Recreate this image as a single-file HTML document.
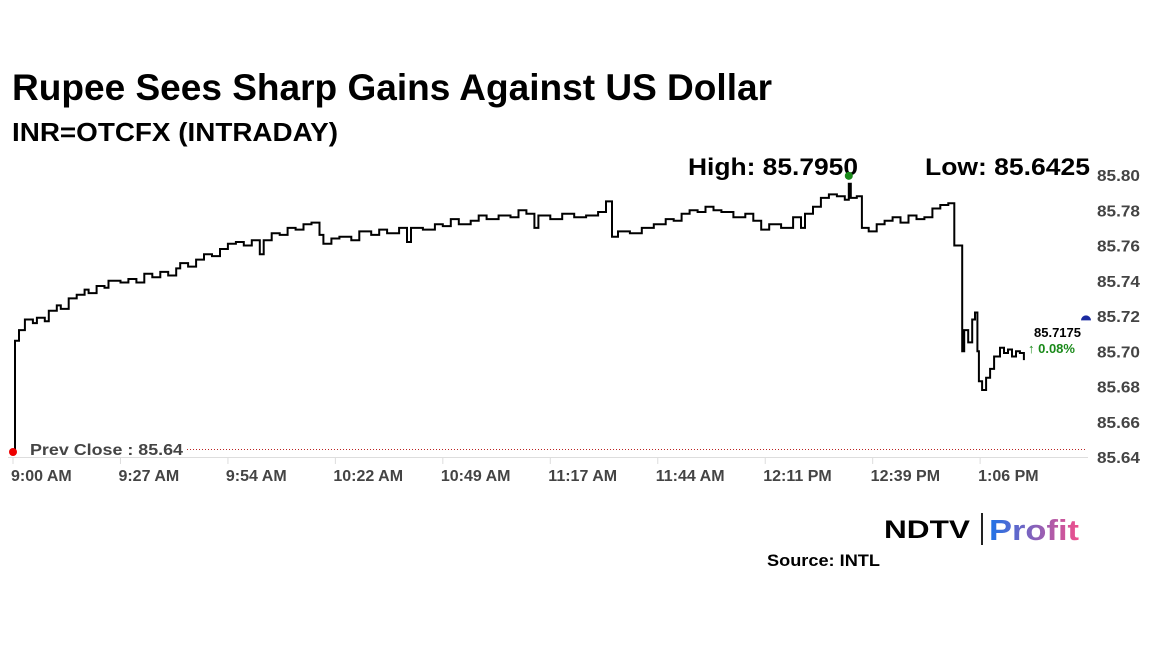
<!DOCTYPE html>
<html><head><meta charset="utf-8"><style>
html,body{margin:0;padding:0;background:#fff;width:1152px;height:648px;overflow:hidden}
text{font-family:"Liberation Sans",sans-serif}
</style></head><body>
<svg id="chart" width="1152" height="648" viewBox="0 0 1152 648" xmlns="http://www.w3.org/2000/svg">
<defs><linearGradient id="pg" x1="0" x2="1"><stop offset="0" stop-color="#1e73e8"/><stop offset="1" stop-color="#f0508c"/></linearGradient></defs>
<text x="12" y="100" font-size="37" font-weight="bold" textLength="760" lengthAdjust="spacingAndGlyphs">Rupee Sees Sharp Gains Against US Dollar</text>
<text x="12" y="141" font-size="26" font-weight="bold" textLength="326" lengthAdjust="spacingAndGlyphs">INR=OTCFX (INTRADAY)</text>
<text x="688" y="175" font-size="24" font-weight="bold" textLength="170" lengthAdjust="spacingAndGlyphs">High: 85.7950</text>
<text x="925" y="175" font-size="24" font-weight="bold" textLength="165" lengthAdjust="spacingAndGlyphs">Low: 85.6425</text>
<line x1="8" x2="1088" y1="457.5" y2="457.5" stroke="#ddd" stroke-width="1"/>
<g id="yaxis"></g><g id="xaxis"></g>
<line x1="187" x2="1087" y1="449.5" y2="449.5" stroke="#b22" stroke-width="1" stroke-dasharray="1,2"/>
<text x="30" y="455" font-size="16" font-weight="bold" fill="#444" textLength="153" lengthAdjust="spacingAndGlyphs">Prev Close : 85.64</text>
<path id="line" fill="none" stroke="#000" stroke-width="2"/>
<circle cx="13" cy="452" r="4" fill="#e00"/>
<g id="marks"></g>
<text x="1034" y="337" font-size="13" font-weight="bold">85.7175</text>
<text x="1028" y="353" font-size="13" font-weight="bold" fill="#1a8a1a">↑ 0.08%</text>
<text x="884" y="538" font-size="25" font-weight="900" textLength="86" lengthAdjust="spacingAndGlyphs">NDTV</text>
<line x1="982" x2="982" y1="513" y2="545" stroke="#222" stroke-width="2"/>
<text x="989" y="540" font-size="29" font-weight="bold" fill="url(#pg)" textLength="90" lengthAdjust="spacingAndGlyphs">Profit</text>
<text x="767" y="566" font-size="17" font-weight="bold" textLength="113" lengthAdjust="spacingAndGlyphs">Source: INTL</text>
</svg>
<script>
const times=[0,0.5,1.5,3,5,6,8,9,11,12,14,16,18,19,21,23,24,27,29,31,33,35,37,39,41,42,44,46,48,50,52,54,56,58,60,62,63,65,67,69,71,73,75,77,78,80,82,85,87,90,92,94,97,99,100,103,106,108,110,112,115,117,119,122,125,127,129,131,132,135,138,141,144,147,149,150.5,152,155,158,161,164,166,168,170,172,174,176,178,181,184,186,188,190,193,196,198,199,201,203,205,207,209,210,210.5,212,213.3,215,217,219,221,223,225,227,229,231,233,235,236.5,238.5,239,240,241,241.7,242.3,242.7,243.5,244.5,245.5,246.5,248,249,250,251,252,253,254];
const values=[85.6425,85.706,85.712,85.718,85.716,85.719,85.717,85.723,85.726,85.724,85.730,85.732,85.735,85.733,85.737,85.736,85.740,85.739,85.741,85.739,85.744,85.742,85.745,85.743,85.747,85.750,85.748,85.752,85.755,85.754,85.758,85.761,85.762,85.760,85.763,85.755,85.763,85.767,85.766,85.770,85.769,85.772,85.773,85.766,85.761,85.764,85.765,85.763,85.768,85.766,85.769,85.767,85.770,85.762,85.770,85.769,85.772,85.771,85.775,85.772,85.774,85.777,85.775,85.777,85.776,85.780,85.778,85.770,85.777,85.775,85.778,85.776,85.777,85.779,85.785,85.765,85.768,85.767,85.770,85.772,85.775,85.774,85.778,85.780,85.779,85.782,85.780,85.779,85.776,85.778,85.774,85.769,85.772,85.770,85.776,85.770,85.778,85.782,85.787,85.789,85.788,85.786,85.795,85.787,85.788,85.770,85.768,85.772,85.774,85.776,85.773,85.777,85.775,85.776,85.781,85.783,85.784,85.760,85.700,85.712,85.705,85.718,85.722,85.700,85.683,85.678,85.685,85.690,85.697,85.702,85.699,85.701,85.697,85.700,85.699,85.695];
const yTicks=[85.80,85.78,85.76,85.74,85.72,85.70,85.68,85.66,85.64];
const xTickLabels=["9:00 AM","9:27 AM","9:54 AM","10:22 AM","10:49 AM","11:17 AM","11:44 AM","12:11 PM","12:39 PM","1:06 PM"];
const xTickMinutes=[0,27,54,81,108,135,162,189,216,243];
const lastPrice=85.7175;
const NS="http://www.w3.org/2000/svg";
const X=t=>13+t*3.98;
const Y=v=>175+(85.80-v)*1762.5;
const ya=document.getElementById('yaxis'),xa=document.getElementById('xaxis'),mk=document.getElementById('marks');
yTicks.forEach(v=>{const t=document.createElementNS(NS,'text');


t.setAttribute('x',1097);t.setAttribute('y',Y(v)+6);t.setAttribute('font-size','16');t.setAttribute('font-weight','bold');t.setAttribute('fill','#444');t.setAttribute('textLength','43');t.setAttribute('lengthAdjust','spacingAndGlyphs');t.textContent=v.toFixed(2);ya.appendChild(t);});
xTickLabels.forEach((s,i)=>{const x=X(xTickMinutes[i]);const l=document.createElementNS(NS,'line');


l.setAttribute('x1',x);l.setAttribute('x2',x);l.setAttribute('y1',458);l.setAttribute('y2',464);l.setAttribute('stroke','#ddd');xa.appendChild(l);
const t=document.createElementNS(NS,'text');


t.setAttribute('x',x-2);t.setAttribute('y',481);t.setAttribute('font-size','16');t.setAttribute('font-weight','bold');t.setAttribute('fill','#444');t.textContent=s;xa.appendChild(t);});
let d='M'+X(times[0])+' '+Y(values[0]);
for(let i=1;i<times.length;i++){d+=' H'+X(times[i]).toFixed(1)+' V'+Y(values[i]).toFixed(1);}
document.getElementById('line').setAttribute('d',d);
let hi=0;values.forEach((v,i)=>{if(v>values[hi])hi=i;});
const c=document.createElementNS(NS,'circle');


c.setAttribute('cx',X(times[hi]));c.setAttribute('cy',Y(values[hi])-8);c.setAttribute('r',4);c.setAttribute('fill','#1a8a1a');mk.appendChild(c);
const b=document.createElementNS(NS,'path');


const ly=Y(lastPrice);b.setAttribute('d',`M1081 ${ly} A5 5 0 0 1 1091 ${ly} Z`);b.setAttribute('fill','#1a2aa0');mk.appendChild(b);
</script>
</body></html>
